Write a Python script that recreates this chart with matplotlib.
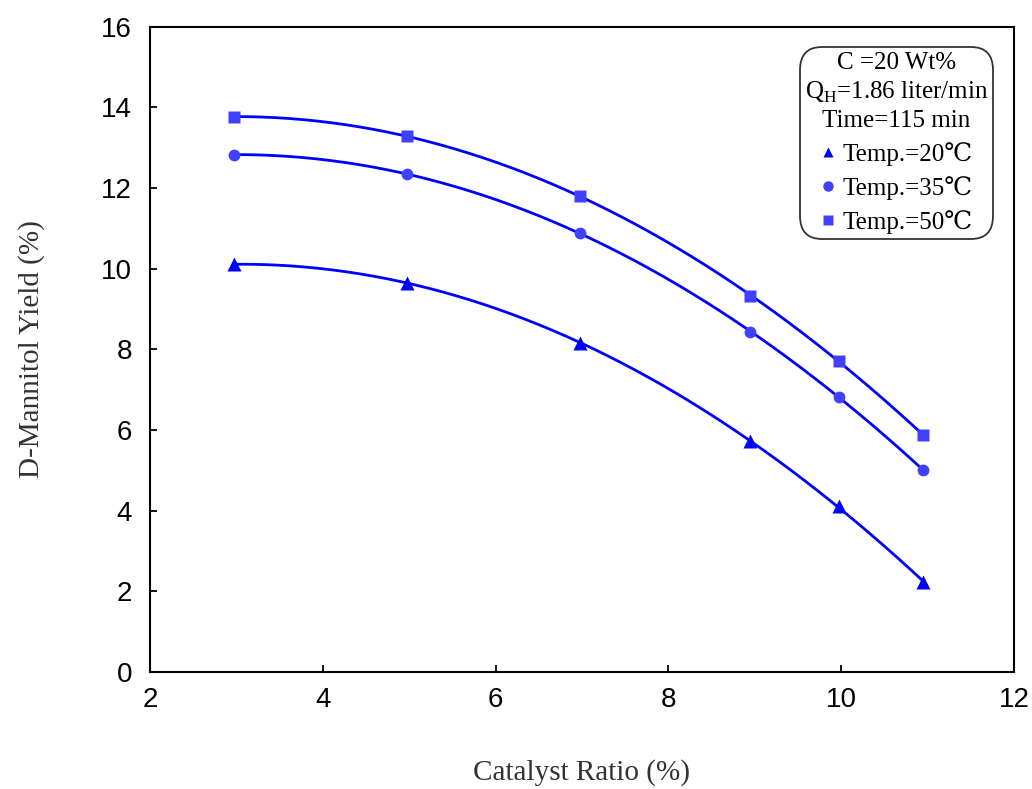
import numpy as np
import matplotlib
matplotlib.use("Agg")
import matplotlib.pyplot as plt
from matplotlib.lines import Line2D

plt.rcParams['mathtext.fontset'] = 'custom'
plt.rcParams['mathtext.rm'] = 'Liberation Serif'

# catalyst ratio (%)
ratio = [2.97, 4.97, 6.98, 8.94, 9.97, 10.95]
yield_20 = [10.11, 9.64, 8.16, 5.73, 4.11, 2.23]
yield_35 = [12.82, 12.35, 10.88, 8.43, 6.82, 5.01]
yield_50 = [13.76, 13.29, 11.80, 9.32, 7.71, 5.88]

series = [
    (yield_20, '^', 10, '#0000ff', 'Temp.=20\u2103'),
    (yield_35, 'o', 8.5, '#4040ff', 'Temp.=35\u2103'),
    (yield_50, 's', 8.5, '#4040ff', 'Temp.=50\u2103'),
]

fig = plt.figure(figsize=(10.32, 7.89), dpi=100)
ax = fig.add_axes([0.1453, 0.1483, 0.8373, 0.8181])

x = np.array(ratio)
xs = np.linspace(x.min(), x.max(), 200)
handles = []
for ys, mk, ms, col, lab in series:
    # quadratic trend line through the points
    p = np.polyfit(x, ys, 2)
    ax.plot(xs, np.polyval(p, xs), color='#0000ff', lw=2, zorder=2)
    ax.plot(x, ys, linestyle='none', marker=mk, ms=ms, color=col, mec='none', zorder=3)
    handles.append(Line2D([], [], linestyle='none', marker=mk, ms=7.5, color=col, mec='none', label=lab))

ax.set_xlim(2, 12)
ax.set_ylim(0, 16)
ax.set_xticks(range(2, 13, 2))
ax.set_yticks(range(0, 17, 2))
ax.tick_params(direction='in', length=5, width=1.3, labelsize=20, top=False, right=False)
ax.tick_params(axis='x', pad=11)
ax.tick_params(axis='y', pad=13)
for t in ax.get_xticklabels() + ax.get_yticklabels():
    t.set_fontfamily('Liberation Sans')
for s in ax.spines.values():
    s.set_linewidth(1.5)

ax.set_xlabel('Catalyst Ratio (%)', family='Liberation Serif', fontsize=21, color='#333333', labelpad=33)
ax.set_ylabel('D-Mannitol Yield (%)', family='Liberation Serif', fontsize=21, color='#333333', labelpad=40)

leg = ax.legend(handles=handles, loc='upper right', bbox_to_anchor=(0.976, 0.968),
                borderaxespad=0,
                title='C =20 Wt%\nQ$_\\mathregular{H}$=1.86 liter/min\nTime=115 min',
                prop={'family': ['Liberation Serif', 'DejaVu Serif'], 'size': 18},
                title_fontproperties={'family': ['Liberation Serif', 'DejaVu Serif'], 'size': 18},
                fancybox=True, framealpha=1, edgecolor='#333333',
                handlelength=0.6, handletextpad=0.3, labelspacing=0.4, borderpad=0.2)
leg.get_frame().set_linewidth(1.3)
leg.get_frame().set_boxstyle('round,pad=0,rounding_size=0.9')
leg.get_title().set_multialignment('center')
leg.get_title().set_linespacing(1.3)

fig.savefig('out.png', dpi=100)
